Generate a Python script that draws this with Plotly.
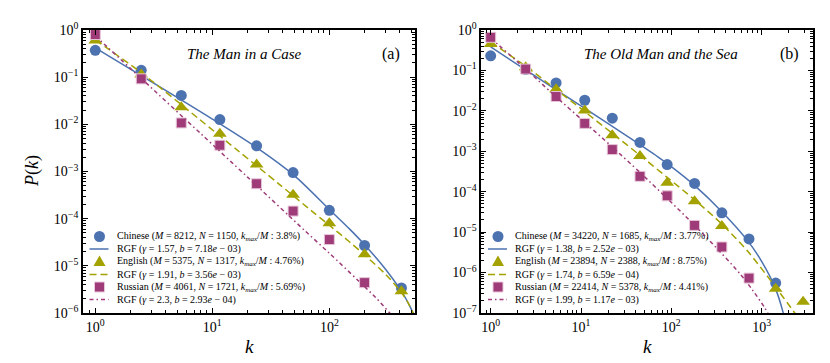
import math
import plotly.graph_objects as go

# ---------------- data ----------------
# (a) The Man in a Case
k_a = [1, 2.47, 5.43, 11.6, 23.9, 49, 100, 200, 413]
chinese_a = [0.37, 0.14, 0.041, 0.0126, 0.0035, 9.5e-4, 1.5e-4, 2.7e-5, 3.4e-6]
english_a = [0.60, 0.114, 0.023, 0.0063, 0.0014, 3.2e-4, 8.0e-5, 1.75e-5, 2.9e-6]
russian_a = [0.80, 0.092, 0.0107, 0.0036, 5.5e-4, 1.45e-4, 3.6e-5, 4.4e-6, None]

rgf_chinese_a_k = [1, 3, 10, 25, 50, 100, 150, 200, 300, 400, 450, 500, 545]
rgf_chinese_a = [0.42, 0.0807, 0.01294, 0.00299, 8.28e-4, 1.57e-4, 5.93e-5, 2.81e-5,
                 8.67e-6, 3.26e-6, 2.03e-6, 1.22e-6, 7.6e-7]
rgf_english_a_k = [1, 2.47, 7.55, 16.6, 36.5, 72.5, 100, 150, 200, 300, 412, 470, 520, 560]
rgf_english_a = [0.619, 0.124, 0.0135, 0.00275, 5.62e-4, 1.38e-4, 7.24e-5, 3.16e-5, 1.70e-5,
                 6.76e-6, 2.75e-6, 1.66e-6, 1.0e-6, 6.3e-7]
rgf_russian_a_k = [1, 2.47, 8.05, 20, 61.6, 100, 176, 250, 328, 360]
rgf_russian_a = [0.75, 0.094, 0.0062, 7.6e-4, 5.6e-5, 1.85e-5, 4.9e-6, 2.1e-6, 1.0e-6, 7.6e-7]

# (b) The Old Man and the Sea
k_b = [1, 2.44, 5.3, 11, 22.2, 45, 90, 181, 363, 725, 1432, 2880]
chinese_b = [0.23, 0.105, 0.049, 0.0183, 0.0066, 0.00166, 4.7e-4, 1.6e-4, 3.0e-5, 6.8e-6, 5.5e-7, None]
english_b = [0.45, 0.12, 0.034, 0.0102, 0.0025, 7.6e-4, 1.66e-4, 5.8e-5, 1.42e-5, None, 4.0e-7, 1.9e-7]
russian_b = [0.66, 0.108, 0.0226, 0.0049, 0.0011, 2.4e-4, 7.9e-5, 1.47e-5, 4.3e-6, 7.3e-7, None, None]

rgf_chinese_b_k = [1, 3, 10, 30, 71, 92, 182, 363, 706, 1000, 1396, 1726, 1850]
rgf_chinese_b = [0.38, 0.0766, 0.0132, 0.00265, 7.3e-4, 4.8e-4, 1.41e-4, 3.2e-5, 6.0e-6,
                 1.9e-6, 4.5e-7, 1.05e-7, 5.0e-8]
rgf_english_b_k = [1, 2.38, 5.3, 11, 22, 45, 90, 181, 363, 706, 1396, 2327, 2500]
rgf_english_b = [0.5, 0.132, 0.0339, 0.00955, 0.00282, 7.94e-4, 2.26e-4, 6.31e-5, 1.58e-5,
                 3.31e-6, 4.68e-7, 1.0e-7, 7.9e-8]
rgf_russian_b_k = [1, 2.38, 5, 11, 22, 45, 92, 118, 244, 572, 800, 1082, 1200]
rgf_russian_b = [0.63, 0.114, 0.025, 0.0052, 0.0013, 3.0e-4, 6.5e-5, 3.8e-5, 7.5e-6,
                 9.5e-7, 3.6e-7, 1.35e-7, 9.0e-8]

titles = ["<i>The Man in a Case</i>", "<i>The Old Man and the Sea</i>"]
panel_tags = ["(a)", "(b)"]

legend_a = [
    "Chinese (<i>M</i> = 8212, <i>N</i> = 1150, <i>k<sub>max</sub></i>/<i>M</i> : 3.8%)",
    "RGF (<i>γ</i> = 1.57, <i>b</i> = 7.18<i>e</i> − 03)",
    "English (<i>M</i> = 5375, <i>N</i> = 1317, <i>k<sub>max</sub></i>/<i>M</i> : 4.76%)",
    "RGF (<i>γ</i> = 1.91, <i>b</i> = 3.56<i>e</i> − 03)",
    "Russian (<i>M</i> = 4061, <i>N</i> = 1721, <i>k<sub>max</sub></i>/<i>M</i> : 5.69%)",
    "RGF (<i>γ</i> = 2.3, <i>b</i> = 2.93<i>e</i> − 04)",
]
legend_b = [
    "Chinese (<i>M</i> = 34220, <i>N</i> = 1685, <i>k<sub>max</sub></i>/<i>M</i> : 3.77%)",
    "RGF (<i>γ</i> = 1.38, <i>b</i> = 2.52<i>e</i> − 03)",
    "English (<i>M</i> = 23894, <i>N</i> = 2388, <i>k<sub>max</sub></i>/<i>M</i> : 8.75%)",
    "RGF (<i>γ</i> = 1.74, <i>b</i> = 6.59<i>e</i> − 04)",
    "Russian (<i>M</i> = 22414, <i>N</i> = 5378, <i>k<sub>max</sub></i>/<i>M</i> : 4.41%)",
    "RGF (<i>γ</i> = 1.99, <i>b</i> = 1.17<i>e</i> − 03)",
]

x_ticks_a = [1, 10, 100]
x_ticks_b = [1, 10, 100, 1000]
y_ticks_a = [1, 1e-1, 1e-2, 1e-3, 1e-4, 1e-5, 1e-6]
y_ticks_b = [1, 1e-1, 1e-2, 1e-3, 1e-4, 1e-5, 1e-6, 1e-7]

# ---------------- style ----------------
BLUE = "#4C72B0"
OLIVE = "#A3A200"
MAG = "#9E3B78"
FONT = "Liberation Serif, Times New Roman, Times, serif"
W, H = 830, 363
ML, MR, MT, MB = 75, 25, 22, 58
PW, PH = W - ML - MR, H - MT - MB


def px(x):
    return (x - ML) / PW


def py(y):
    return (H - MB - y) / PH


def sup_label(v):
    e = int(round(math.log10(v)))
    return "10<sup>" + (str(e) if e >= 0 else "−" + str(-e)) + "</sup>"


def minor_vals(lo, hi):
    return [m * 10.0 ** e for e in range(lo, hi) for m in range(2, 10)]


fig = go.Figure()

styles = [
    dict(symbol="circle", color=BLUE, size=11, dash=None),
    dict(symbol="triangle-up", color=OLIVE, size=12, dash="7px,4px"),
    dict(symbol="square", color=MAG, size=10, dash="4px,3px,1.5px,3px"),
]

panels = [
    ("x", "y", k_a, [chinese_a, english_a, russian_a],
     [(rgf_chinese_a_k, rgf_chinese_a), (rgf_english_a_k, rgf_english_a),
      (rgf_russian_a_k, rgf_russian_a)]),
    ("x2", "y2", k_b, [chinese_b, english_b, russian_b],
     [(rgf_chinese_b_k, rgf_chinese_b), (rgf_english_b_k, rgf_english_b),
      (rgf_russian_b_k, rgf_russian_b)]),
]

for xa, ya, kk, series, curves in panels:
    for st, yv, (ck, cv) in zip(styles, series, curves):
        mline = dict(width=0)
        if st["symbol"] == "square":
            mline = dict(width=1, color="#E8C8DA")
        fig.add_trace(go.Scatter(
            x=kk, y=yv, mode="markers", xaxis=xa, yaxis=ya, showlegend=False,
            marker=dict(symbol=st["symbol"], color=st["color"], size=st["size"], line=mline),
            cliponaxis=True))
        fig.add_trace(go.Scatter(
            x=ck, y=cv, mode="lines", xaxis=xa, yaxis=ya, showlegend=False,
            line=dict(color=st["color"], width=1.5, dash=st["dash"] or "solid", shape="spline",
                      smoothing=0.8),
            cliponaxis=True))

axis_common = dict(
    type="log", showline=True, linecolor="black", linewidth=1.8, mirror="allticks",
    ticks="inside", ticklen=5, tickwidth=1, tickcolor="black", showgrid=False,
    zeroline=False, tickfont=dict(family=FONT, size=14, color="black"),
)


def minor(vals):
    return dict(tickmode="array", tickvals=vals, ticks="inside", ticklen=3, tickwidth=0.8,
                tickcolor="black", showgrid=False)


fig.update_layout(
    width=W, height=H, margin=dict(l=ML, r=MR, t=MT, b=MB),
    paper_bgcolor="white", plot_bgcolor="white", showlegend=False,
    font=dict(family=FONT, color="black"),
    xaxis=dict(axis_common, domain=[0, px(407)], range=[-0.105, 2.732], anchor="y",
               tickmode="array", tickvals=x_ticks_a, ticktext=[sup_label(v) for v in x_ticks_a],
               minor=minor(minor_vals(-1, 3))),
    yaxis=dict(axis_common, domain=[0, 1], range=[-6, 0], anchor="x",
               tickmode="array", tickvals=y_ticks_a, ticktext=[sup_label(v) for v in y_ticks_a],
               minor=minor(minor_vals(-6, 0))),
    xaxis2=dict(axis_common, domain=[px(473.3), 1], range=[-0.104, 3.569], anchor="y2",
                tickmode="array", tickvals=x_ticks_b, ticktext=[sup_label(v) for v in x_ticks_b],
                minor=minor(minor_vals(-1, 4))),
    yaxis2=dict(axis_common, domain=[0, 1], range=[-7, 0], anchor="x2",
                tickmode="array", tickvals=y_ticks_b, ticktext=[sup_label(v) for v in y_ticks_b],
                minor=minor(minor_vals(-7, 0))),
)

ann = []
shapes = []


def text(x, y, t, size, xanchor="center", angle=0):
    ann.append(dict(x=px(x), y=py(y), xref="paper", yref="paper", text=t, showarrow=False,
                    xanchor=xanchor, yanchor="middle", textangle=angle,
                    font=dict(family=FONT, size=size, color="black")))


text(236, 45.7, titles[0], 15)
text(383, 45.7, panel_tags[0], 16)
text(653, 45.7, titles[1], 15)
text(781.7, 45.7, panel_tags[1], 16)
text(24, 163, "<i>P</i>(<i>k</i>)", 18, angle=-90)
text(241, 338, "<i>k</i>", 19)
text(639, 338, "<i>k</i>", 19)

# compact legends (rows as in the reference)
rows = [228.5, 241, 253.3, 266.5, 279, 291.5]
for mx, labels in [(91.5, legend_a), (490, legend_b)]:
    for i, lab in enumerate(labels):
        yy = rows[i]
        text(mx + 15, yy, lab, 10, xanchor="left")
        st = styles[i // 2]
        if i % 2 == 1:
            shapes.append(dict(type="line", xref="paper", yref="paper",
                               x0=px(mx - 10), x1=px(mx + 9), y0=py(yy), y1=py(yy),
                               line=dict(color=st["color"], width=1.5,
                                         dash=st["dash"] or "solid")))
        else:
            r = st["size"] / 2
            if st["symbol"] == "circle":
                shapes.append(dict(type="circle", xref="paper", yref="paper",
                                   x0=px(mx - r), x1=px(mx + r), y0=py(yy - r), y1=py(yy + r),
                                   fillcolor=st["color"], line=dict(width=0)))
            elif st["symbol"] == "square":
                shapes.append(dict(type="rect", xref="paper", yref="paper",
                                   x0=px(mx - r), x1=px(mx + r), y0=py(yy - r), y1=py(yy + r),
                                   fillcolor=st["color"], line=dict(width=1, color="#E8C8DA")))
            else:
                path = "M {} {} L {} {} L {} {} Z".format(
                    px(mx - r), py(yy + r * 0.8), px(mx + r), py(yy + r * 0.8),
                    px(mx), py(yy - r * 0.95))
                shapes.append(dict(type="path", xref="paper", yref="paper", path=path,
                                   fillcolor=st["color"], line=dict(width=0)))

fig.update_layout(annotations=ann, shapes=shapes)
fig.write_html("out.html")
